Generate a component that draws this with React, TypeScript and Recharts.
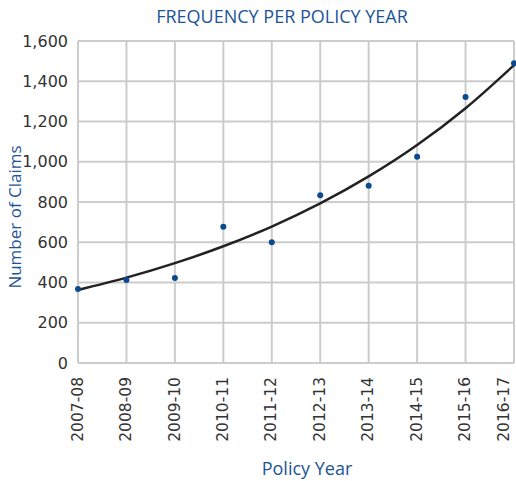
import React from "react";
import {
  ComposedChart,
  Line,
  Scatter,
  XAxis,
  YAxis,
  CartesianGrid,
  Label,
} from "recharts";

const policyYears = [
  "2007-08",
  "2008-09",
  "2009-10",
  "2010-11",
  "2011-12",
  "2012-13",
  "2013-14",
  "2014-15",
  "2015-16",
  "2016-17",
];
const claims = [368, 412, 422, 677, 600, 833, 881, 1025, 1322, 1489];
const trend = [363, 424, 496, 580, 678, 793, 927, 1083, 1266, 1480];
const yTicks = [0, 200, 400, 600, 800, 1000, 1200, 1400, 1600];

const data = policyYears.map((year, i) => ({
  year,
  claims: claims[i],
  trend: trend[i],
}));

const BLUE = "#1d5496";
const FONT = "'Open Sans', 'Liberation Sans', sans-serif";
const TICK_FONT = "'DejaVu Sans', sans-serif";

const XTick = (props: any) => {
  const { y, payload } = props;
  // keep the last label inside the picture
  const x = Math.min(props.x, 504);
  return (
    <text
      x={x}
      y={y}
      transform={`rotate(-90 ${x} ${y})`}
      textAnchor="end"
      dy="0.3em"
      fill="#333"
      fontSize={15.5}
      fontFamily={TICK_FONT}
    >
      {payload.value}
    </text>
  );
};

export default function App() {
  return (
    <div style={{ position: "absolute", left: 0, top: 0, width: 516, height: 481, background: "#fff" }}>
      <div
        style={{
          position: "absolute",
          top: 4,
          left: 32,
          width: 500,
          textAlign: "center",
          color: BLUE,
          fontFamily: FONT,
          fontSize: 18,
        }}
      >
        FREQUENCY PER POLICY YEAR
      </div>
      <ComposedChart
        width={516}
        height={481}
        data={data}
        margin={{ top: 41, right: 2, bottom: 18, left: 0 }}
      >
        <CartesianGrid stroke="#cccccc" strokeWidth={2} />
        <XAxis
          dataKey="year"
          stroke="#cccccc"
          strokeWidth={2}
          tickLine={false}
          tick={<XTick />}
          tickMargin={8}
          height={100}
          interval={0}
        >
          <Label
            content={(p: any) => (
              <text
                x={p.viewBox.x + p.viewBox.width / 2 + 11}
                y={p.viewBox.y + 112}
                textAnchor="middle"
                fill={BLUE}
                fontSize={18}
                fontFamily={FONT}
              >
                Policy Year
              </text>
            )}
          />
        </XAxis>
        <YAxis
          domain={[0, 1600]}
          ticks={yTicks}
          width={78}
          stroke="#cccccc"
          strokeWidth={2}
          tickLine={false}
          tickMargin={4}
          tick={{ fill: "#333", fontSize: 16, fontFamily: TICK_FONT }}
          tickFormatter={(v: number) => v.toLocaleString("en-US")}
        >
          <Label
            content={(p: any) => {
              const cx = 15;
              const cy = p.viewBox.y + p.viewBox.height / 2 + 15;
              return (
                <text
                  x={cx}
                  y={cy}
                  transform={`rotate(-90 ${cx} ${cy})`}
                  textAnchor="middle"
                  dy="0.36em"
                  fill={BLUE}
                  fontSize={17}
                  fontFamily={FONT}
                >
                  Number of Claims
                </text>
              );
            }}
          />
        </YAxis>
        <Line
          type="monotone"
          dataKey="trend"
          stroke="#222"
          strokeWidth={2.5}
          dot={false}
          activeDot={false}
          isAnimationActive={false}
        />
        <Scatter
          dataKey="claims"
          fill="#0b4a8f"
          shape={(p: any) => <circle cx={p.cx} cy={p.cy} r={3} fill="#0b4a8f" />}
          isAnimationActive={false}
        />
      </ComposedChart>
    </div>
  );
}
